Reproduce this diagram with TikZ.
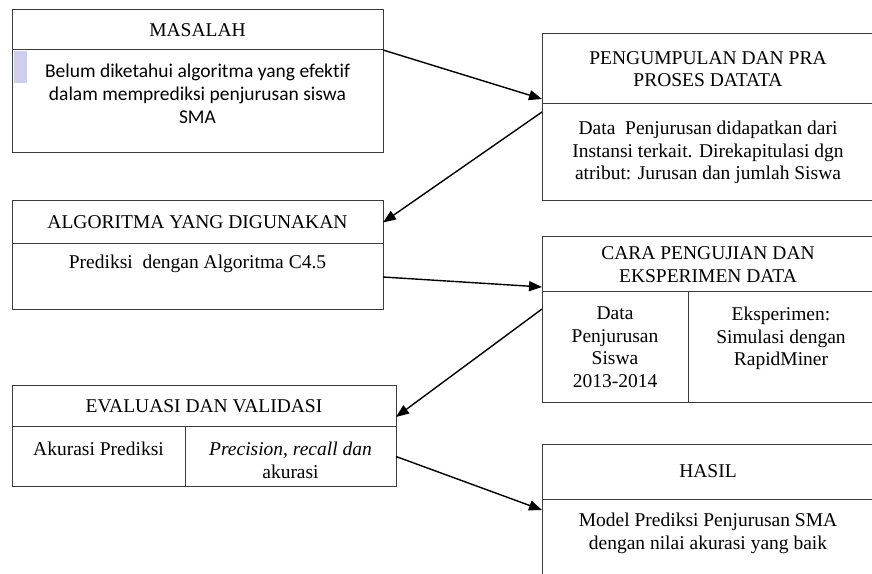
\documentclass[tikz,border=0pt]{standalone}
\usepackage{fontspec}
\setmainfont{Liberation Serif}
\newfontfamily\calibrifont[Ligatures=NoCommon]{Carlito}
\usepackage{xcolor}
\usepackage{tikz}
\usetikzlibrary{positioning}
\usetikzlibrary{arrows.meta}
\definecolor{lavender}{RGB}{206,206,238}
\definecolor{framegray}{RGB}{60,60,60}

\tikzset{
  box/.style={draw=framegray, line width=1pt, rectangle, inner sep=0pt, outer sep=0pt},
  txt/.style={inner sep=0pt, align=center, font=\fontsize{19.5}{22.5}\selectfont},
  sanstxt/.style={txt, font=\calibrifont\fontsize{19.5}{22.8}\selectfont},
  arr/.style={-{Triangle[length=13pt,width=10pt]}, line width=1.4pt}
}

\begin{document}
\begin{tikzpicture}[x=1pt,y=1pt]
              \useasboundingbox (0,0) rectangle (872,573);

              % masalah
              \node[box, txt, minimum width=371pt, minimum height=40pt] (masalah) at (197.5,543) {MASALAH};
              \node[box, minimum width=371pt, minimum height=103pt, below=0pt of masalah] (masalah-b) {};
              \fill[lavender] ([xshift=2pt,yshift=-1pt]masalah-b.north west) rectangle ++(13,-32);
              \node[sanstxt, below=14pt of masalah-b.north] {Belum diketahui algoritma yang efektif\\dalam memprediksi penjurusan siswa\\SMA};

              % pengumpulan data
              \node[box, txt, minimum width=332pt, minimum height=70pt] (kumpul) at (708,504) {PENGUMPULAN DAN PRA\\PROSES DATATA};
              \node[box, minimum width=332pt, minimum height=97pt, below=0pt of kumpul] (kumpul-b) {};
              \node[txt, below=17pt of kumpul-b.north] {Data\ \ Penjurusan didapatkan dari\\Instansi terkait. Direkapitulasi dgn\\atribut: Jurusan dan jumlah Siswa};

              % algoritma
              \node[box, txt, minimum width=371pt, minimum height=43pt] (algo) at (197.5,350.5) {ALGORITMA YANG DIGUNAKAN};
              \node[box, minimum width=371pt, minimum height=66pt, below=0pt of algo] (algo-b) {};
              \node[txt, below=11pt of algo-b.north] {Prediksi\ \ dengan Algoritma C4.5};

              % pengujian
              \node[box, txt, minimum width=332pt, minimum height=55pt] (cara) at (708,308.5) {CARA PENGUJIAN DAN\\EKSPERIMEN DATA};
              \node[box, minimum width=146pt, minimum height=111pt, below right=0pt of cara.south west] (cara-l) {};
              \node[box, minimum width=186pt, minimum height=111pt, right=0pt of cara-l] (cara-r) {};
              \node[txt, below=15pt of cara-l.north] {Data\\Penjurusan\\Siswa\\2013-2014};
              \node[txt, below=15pt of cara-r.north] {Eksperimen:\\Simulasi dengan\\RapidMiner};

              % evaluasi
              \node[box, txt, minimum width=384pt, minimum height=41pt] (eval) at (204,166.5) {EVALUASI DAN VALIDASI};
              \node[box, minimum width=173pt, minimum height=59pt, below right=0pt of eval.south west] (eval-l) {};
              \node[box, minimum width=211pt, minimum height=59pt, right=0pt of eval-l] (eval-r) {};
              \node[txt, below=15pt of eval-l.north] {Akurasi Prediksi};
              \node[txt, below=15pt of eval-r.north] {\textit{Precision, recall dan}\\akurasi};

              % hasil
              \node[box, txt, minimum width=332pt, minimum height=55pt] (hasil) at (708,101.5) {HASIL};
              \node[box, minimum width=332pt, minimum height=90pt, below=0pt of hasil] (hasil-b) {};
              \node[txt, below=14pt of hasil-b.north] {Model Prediksi Penjurusan SMA\\dengan nilai akurasi yang baik};

              \path[arr]
                (masalah.south east) edge ([yshift=5pt]kumpul.south west)
                ([yshift=-8pt]kumpul-b.north west) edge (algo.east)
                (algo-b.east) edge ([yshift=5pt]cara.south west)
                ([yshift=-17pt]cara-l.north west) edge ([yshift=10pt]eval.south east)
                (eval-r.east) edge ([yshift=-11pt]hasil-b.north west);
            \end{tikzpicture}
\end{document}
